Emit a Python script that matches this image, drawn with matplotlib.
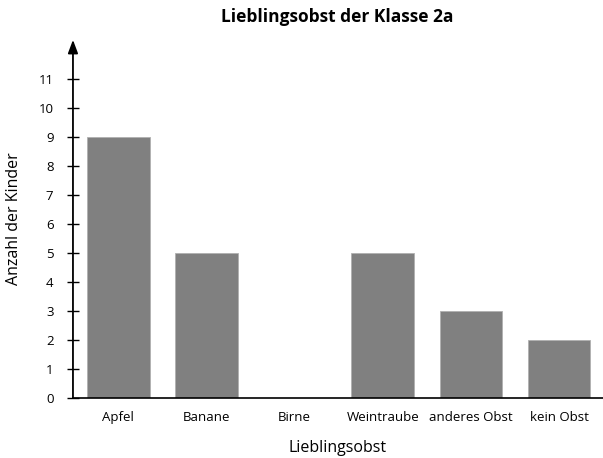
import matplotlib.pyplot as plt

kategorien = ["Apfel", "Banane", "Birne", "Weintraube", "anderes Obst", "kein Obst"]
anzahl = [9, 5, 0, 5, 3, 2]
y_ticks = list(range(0, 12))

plt.rcParams['font.family'] = ['Open Sans', 'DejaVu Sans']

fig = plt.figure(figsize=(6.03, 4.58), dpi=100)
ax = fig.add_axes([0.121, 0.131, 0.879, 0.782])

x = range(len(kategorien))
ax.bar(x, anzahl, width=0.71, color="#808080", edgecolor="#b0b0b0", linewidth=0.6, zorder=2)

ax.set_xlim(-0.515, 5.5)
ax.set_ylim(0, 12.35)
ax.set_xticks(list(x))
ax.set_xticklabels(kategorien, fontsize=9.5)
ax.set_yticks(y_ticks)
ax.set_yticklabels([str(v) for v in y_ticks], fontsize=9.5)

for s in ["top", "right"]:
    ax.spines[s].set_visible(False)
ax.spines["left"].set_visible(False)
ax.spines["bottom"].set_linewidth(1.2)
ax.tick_params(axis="x", length=0, pad=9)
ax.tick_params(axis="y", direction="inout", length=8, width=1, pad=10)

# y-Achse mit Pfeil
ax.annotate("", xy=(0, 1.0), xytext=(0, 0), xycoords="axes fraction",
            arrowprops=dict(arrowstyle="-|>,head_length=0.8,head_width=0.3",
                            color="black", lw=1.3, shrinkA=0, shrinkB=0))

ax.set_xlabel("Lieblingsobst", fontsize=11.5, labelpad=12)
ax.set_ylabel("Anzahl der Kinder", fontsize=11.5, labelpad=12)
fig.text(0.56, 0.962, "Lieblingsobst der Klasse 2a", ha="center", va="center",
         fontsize=12.5, fontweight="bold")

fig.savefig("out.png", dpi=100)
